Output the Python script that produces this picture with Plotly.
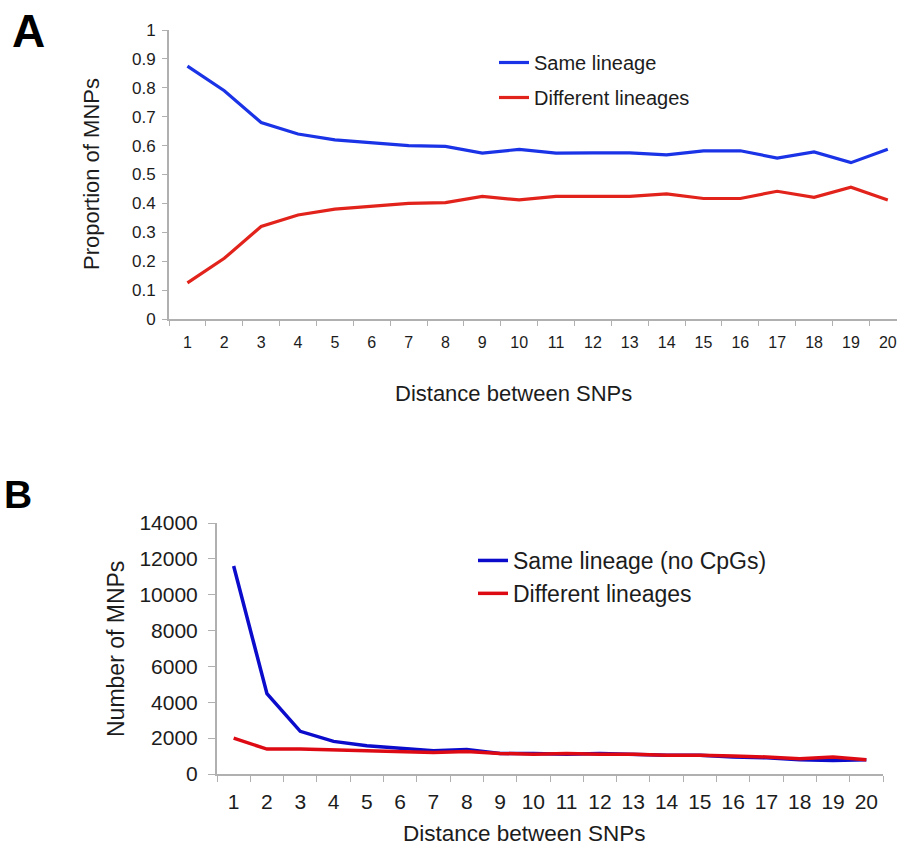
import plotly.graph_objects as go

distance = [str(i) for i in range(1, 21)]

prop_same = [0.875, 0.79, 0.68, 0.64, 0.62, 0.61, 0.60, 0.597, 0.574, 0.587,
             0.574, 0.575, 0.575, 0.568, 0.582, 0.582, 0.557, 0.578, 0.541, 0.587]
prop_diff = [0.125, 0.21, 0.32, 0.36, 0.38, 0.39, 0.40, 0.403, 0.424, 0.412,
             0.424, 0.424, 0.424, 0.433, 0.417, 0.417, 0.442, 0.421, 0.456, 0.412]

num_same = [11600, 4480, 2380, 1820, 1580, 1450, 1300, 1360, 1150, 1150,
            1100, 1150, 1100, 1050, 1050, 950, 900, 800, 750, 800]
num_diff = [2000, 1390, 1390, 1350, 1300, 1250, 1200, 1250, 1150, 1100,
            1150, 1100, 1100, 1050, 1050, 1000, 950, 850, 950, 800]

yticks_a = [0, 0.1, 0.2, 0.3, 0.4, 0.5, 0.6, 0.7, 0.8, 0.9, 1]
yticklabels_a = ["0", "0.1", "0.2", "0.3", "0.4", "0.5", "0.6", "0.7", "0.8", "0.9", "1"]
yticks_b = [0, 2000, 4000, 6000, 8000, 10000, 12000, 14000]
yticklabels_b = ["0", "2000", "4000", "6000", "8000", "10000", "12000", "14000"]

W, H = 897, 847
FONT = "Liberation Sans, Arial, Helvetica, sans-serif"
TXT = "#1c1c1c"
BLUE_A, RED_A = "#1a33e6", "#e2231c"
BLUE_B, RED_B = "#0b0bcc", "#dd0a14"

fig = go.Figure()
fig.add_trace(go.Scatter(x=distance, y=prop_same, mode="lines", name="Same lineage",
                         line=dict(color=BLUE_A, width=3.2), xaxis="x", yaxis="y",
                         legend="legend", legendgroup="a1"))
fig.add_trace(go.Scatter(x=distance, y=prop_diff, mode="lines", name="Different lineages",
                         line=dict(color=RED_A, width=3.2), xaxis="x", yaxis="y",
                         legend="legend", legendgroup="a2"))
fig.add_trace(go.Scatter(x=distance, y=num_same, mode="lines", name="Same lineage (no CpGs)",
                         line=dict(color=BLUE_B, width=3.5), xaxis="x2", yaxis="y2",
                         legend="legend2", legendgroup="b1"))
fig.add_trace(go.Scatter(x=distance, y=num_diff, mode="lines", name="Different lineages",
                         line=dict(color=RED_B, width=3.5), xaxis="x2", yaxis="y2",
                         legend="legend2", legendgroup="b2"))

axcol = "#b0b0b0"
common_x = dict(type="category", tickson="boundaries", ticks="outside",
                tickcolor=axcol, showline=True, linecolor=axcol, linewidth=2,
                showgrid=False, zeroline=False, automargin=False)
common_y = dict(ticks="outside", tickcolor=axcol, showline=True, linecolor=axcol,
                linewidth=2, showgrid=False, zeroline=False, automargin=False)

fig.update_layout(
    width=W, height=H,
    paper_bgcolor="white", plot_bgcolor="white",
    margin=dict(l=0, r=0, t=0, b=0, autoexpand=False),
    showlegend=True,
    hovermode=False,
    xaxis=dict(common_x, domain=[169 / W, 1], anchor="y", range=[-0.5, 19.25],
               ticklen=5, ticklabelstandoff=8,
               tickfont=dict(family=FONT, size=16, color=TXT)),
    yaxis=dict(common_y, domain=[1 - 319 / H, 1 - 30 / H], anchor="x", range=[0, 1],
               ticklen=5, ticklabelstandoff=3,
               tickvals=yticks_a, ticktext=yticklabels_a,
               tickfont=dict(family=FONT, size=17, color=TXT)),
    xaxis2=dict(common_x, domain=[217 / W, 883 / W], anchor="y2", range=[-0.5, 19.5],
                ticklen=6, ticklabelstandoff=8,
                tickfont=dict(family=FONT, size=21, color=TXT)),
    yaxis2=dict(common_y, domain=[1 - 774 / H, 1 - 523 / H], anchor="x2", range=[0, 14000],
                ticklen=7, ticklabelstandoff=6,
                tickvals=yticks_b, ticktext=yticklabels_b,
                tickfont=dict(family=FONT, size=21, color=TXT)),
    legend=dict(x=494 / W, y=1 - 43 / H, xanchor="left", yanchor="top",
                font=dict(family=FONT, size=20, color=TXT), bgcolor="rgba(0,0,0,0)",
                tracegroupgap=6),
    legend2=dict(x=473 / W, y=1 - 539 / H, xanchor="left", yanchor="top",
                 font=dict(family=FONT, size=23, color=TXT), bgcolor="rgba(0,0,0,0)",
                 tracegroupgap=0),
    annotations=[
        dict(text="<b>A</b>", x=28 / W, y=1 - 31 / H, xref="paper", yref="paper",
             xanchor="center", yanchor="middle", showarrow=False,
             font=dict(family="Liberation Sans, Arial, sans-serif", size=46, color="black")),
        dict(text="<b>B</b>", x=18 / W, y=1 - 494 / H, xref="paper", yref="paper",
             xanchor="center", yanchor="middle", showarrow=False,
             font=dict(family="Liberation Sans, Arial, sans-serif", size=39, color="black")),
        dict(text="Proportion of MNPs", x=91 / W, y=1 - 174 / H, xref="paper", yref="paper",
             xanchor="center", yanchor="middle", showarrow=False, textangle=-90,
             font=dict(family=FONT, size=22, color=TXT)),
        dict(text="Distance between SNPs", x=513 / W, y=1 - 393 / H, xref="paper", yref="paper",
             xanchor="center", yanchor="middle", showarrow=False,
             font=dict(family=FONT, size=22, color=TXT)),
        dict(text="Number of MNPs", x=116 / W, y=1 - 649 / H, xref="paper", yref="paper",
             xanchor="center", yanchor="middle", showarrow=False, textangle=-90,
             font=dict(family=FONT, size=23, color=TXT)),
        dict(text="Distance between SNPs", x=524 / W, y=1 - 833 / H, xref="paper", yref="paper",
             xanchor="center", yanchor="middle", showarrow=False,
             font=dict(family=FONT, size=22.5, color=TXT)),
    ],
)

fig.write_html("out.html", config={"displayModeBar": False},
               post_script="document.body.style.margin='0';")
